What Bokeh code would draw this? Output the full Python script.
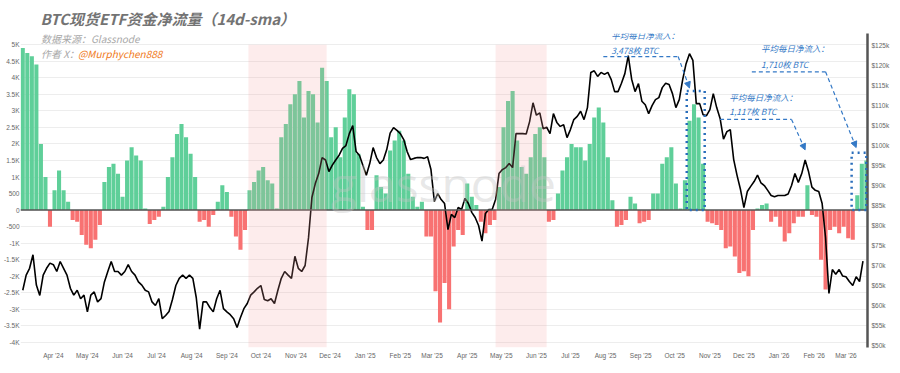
import pandas as pd
from bokeh.plotting import figure
from bokeh.models import (Range1d, LinearAxis, FixedTicker, DatetimeTickFormatter,
                          BoxAnnotation, Label, Arrow, NormalHead, Span, ColumnDataSource)
from bokeh.embed import file_html
from bokeh.resources import INLINE

# ---------------- data ----------------
flow_start = "2024-03-05"          # 14d-sma ETF net flow, one value every 4 days (BTC)
flow_step_days = 4
flow_btc = [
    4900, 4750, 4650, 4400, 2000, 1000, -500, 600, 1200, 600,
    250, -300, -350, -750, -1050, -1150, -900, -450, 850, 1300,
    1400, 1100, 400, 1500, 1900, 1650, 1500, 50, -420, -300,
    -200, 100, 1000, 1600, 2300, 2600, 2200, 1700, 1000, -350,
    -300, -500, -150, 250, 750, 550, -200, -800, -1200, -600,
    600, 850, 1200, 1300, 900, 800, 50, 2200, 2600, 3200,
    3500, 3900, 2800, 3600, 3500, 2650, 4300, 3900, 2200, 2500,
    1600, 2800, 3650, 3500, 1700, 100, -600, -600, 1050, 700,
    500, 1800, 2100, 2400, 2100, 1100, 400, 100, 250, -800,
    -800, -2450, -3400, -2200, -3000, -1100, -600, -750, 800, 400,
    150, -350, -700, -450, -300, 700, 2500, 3300, 3600, 2100,
    1300, 1100, 1600, 2300, 2500, 1600, -350, -300, 500, 1200,
    1600, 2000, 1900, 1900, 1500, 2000, 2800, 3100, 2650, 1600,
    300, -500, -450, -300, 400, 200, -400, -350, -300, 500,
    500, 1400, 1600, 1900, 800, 50, 900, 2700, 3200, 2800,
    1400, -350, -400, -450, -600, -1150, -1100, -1400, -1900, -1850,
    -2000, -600, 50, 150, 200, -350, -200, -500, -950, -700,
    -400, -200, -200, 750, -150, -200, -1500, -2400, -600, -500,
    -700, -500, -850, -900, 450, 1400, 1500,
]

price_start = "2024-03-05"         # BTC price (k USD), one value every 3 days
price_step_days = 3
btc_price_k = [
    63.8, 67.6, 69.3, 72.7, 65.1, 62.5, 67.6, 69.3, 70.6, 70.2,
    68.5, 71.0, 69.3, 67.6, 64.3, 62.6, 63.8, 61.7, 62.6, 58.4,
    62.6, 63.4, 60.9, 61.7, 65.9, 68.5, 71.0, 68.5, 68.5, 67.6,
    68.5, 70.2, 68.5, 67.6, 65.9, 65.1, 63.8, 63.4, 60.9, 60.0,
    61.7, 56.7, 57.5, 58.5, 61.5, 65.0, 66.8, 67.6, 66.8, 67.6,
    66.8, 62.0, 54.1, 60.9, 60.9, 59.5, 58.4, 61.7, 63.8, 59.2,
    58.4, 57.7, 56.7, 54.5, 57.0, 59.2, 60.5, 62.6, 63.4, 64.3,
    65.0, 61.5, 61.2, 61.7, 60.5, 63.8, 66.8, 68.5, 67.6, 66.8,
    72.3, 69.3, 68.5, 70.0, 76.9, 87.0, 90.5, 93.0, 97.0, 96.4,
    93.5, 95.1, 96.4, 97.6, 99.3, 100.0, 103.0, 105.0, 98.5, 97.5,
    95.0, 92.6, 95.5, 99.5, 97.0, 95.5, 96.4, 99.0, 103.1, 104.5,
    103.8, 103.0, 101.5, 98.5, 96.5, 96.8, 97.0, 97.0, 96.8, 97.2,
    94.0, 86.0, 88.0, 86.5, 85.5, 79.0, 82.8, 82.0, 84.5, 84.0,
    86.8, 85.5, 83.3, 82.0, 80.0, 76.1, 83.0, 84.0, 84.0, 86.5,
    93.0, 94.0, 94.5, 95.5, 94.5, 103.0, 103.0, 103.0, 102.9, 106.0,
    110.7, 107.6, 108.2, 104.2, 104.6, 103.0, 108.0, 105.8, 104.8, 105.2,
    102.0, 104.0, 106.5, 107.3, 108.6, 106.5, 109.5, 118.3, 118.7, 117.3,
    118.3, 117.8, 118.3, 116.5, 113.5, 113.5, 115.6, 118.0, 122.5, 116.6,
    113.5, 115.5, 111.1, 110.2, 108.0, 110.0, 111.5, 112.0, 114.5, 115.6,
    115.3, 113.0, 109.5, 111.5, 116.5, 120.5, 123.0, 121.3, 110.5, 110.5,
    107.7, 107.5, 109.0, 113.0, 109.5, 106.8, 101.6, 103.5, 104.0, 96.5,
    92.5, 89.0, 84.5, 88.5, 89.8, 91.0, 92.6, 90.7, 90.0, 88.8,
    87.5, 87.2, 87.5, 87.5, 87.5, 87.9, 90.0, 93.0, 90.8, 93.0,
    96.4, 93.5, 89.6, 88.8, 88.5, 85.5, 77.0, 63.0, 69.0, 67.8,
    69.0, 67.4, 67.2, 66.0, 65.0, 67.2, 66.0, 71.1,
]

shade_periods = [("2024-09-20", "2024-11-28"), ("2025-04-26", "2025-06-10")]

left_ticks = [-4000, -3500, -3000, -2500, -2000, -1500, -1000, -500, 0,
              500, 1000, 1500, 2000, 2500, 3000, 3500, 4000, 4500, 5000]
left_tick_labels = ["-4K", "-3.5K", "-3K", "-2.5K", "-2K", "-1.5K", "-1K", "-500", "0",
                    "500", "1K", "1.5K", "2K", "2.5K", "3K", "3.5K", "4K", "4.5K", "5K"]
right_ticks = [50, 55, 60, 65, 70, 75, 80, 85, 90, 95, 100, 105, 110, 115, 120, 125]
right_tick_labels = ["$50k", "$55k", "$60k", "$65k", "$70k", "$75k", "$80k", "$85k",
                     "$90k", "$95k", "$100k", "$105k", "$110k", "$115k", "$120k", "$125k"]
month_ticks = list(pd.date_range("2024-04-01", "2026-03-01", freq="MS"))

title_text = "BTC现货ETF资金净流量（14d-sma）"
source_text = "数据来源：Glassnode"
author_text = "作者 X："
author_handle = "@Murphychen888"

# callouts: label lines, dashed leader path, arrow tip, highlighted box
callouts = [
    dict(head="平均每日净流入：", value="3,478枚 BTC", text_x="2025-08-06", text_y=(5280, 4850),
         path=[("2025-07-30", 4640), ("2025-10-04", 4640)], tip=("2025-10-14", 3690)),
    dict(head="平均每日净流入：", value="1,710枚 BTC", text_x="2025-12-16", text_y=(4890, 4430),
         path=[("2025-12-08", 4180), ("2026-02-11", 4180)], tip=("2026-03-10", 1890)),
    dict(head="平均每日净流入：", value="1,117枚 BTC", text_x="2025-11-18", text_y=(3420, 2990),
         path=[("2025-11-10", 2740), ("2026-01-12", 2740)], tip=("2026-01-24", 1820)),
]
highlight_boxes = [("2025-10-11 14:00", "2025-10-27 10:00", 3600),
                   ("2026-03-06", "2026-03-19", 1730)]


def ms(d):
    return pd.Timestamp(d).value / 1e6


# ---------------- figure ----------------
flow_dates = pd.date_range(flow_start, periods=len(flow_btc), freq=f"{flow_step_days}D")
price_dates = pd.date_range(price_start, periods=len(btc_price_k), freq=f"{price_step_days}D")

GREEN = "#5fcf99"
RED = "#f87272"
BLUE = "#3479c6"

p = figure(width=892, height=364, x_axis_type="datetime",
           x_range=Range1d(ms("2024-03-03"), ms("2026-03-20")),
           y_range=Range1d(-4153, 5337),
           output_backend="svg", toolbar_location=None,
           min_border_left=14, min_border_right=10, min_border_top=29, min_border_bottom=17)
p.outline_line_color = None
p.background_fill_color = "white"
p.extra_y_ranges = {"price": Range1d(49.49, 128.04)}

# title
p.title.text = title_text
p.title.text_font = "Noto Sans CJK SC"
p.title.text_font_style = "bold italic"
p.title.text_font_size = "15px"
p.title.text_color = "#737373"
p.title.align = "left"
p.title.offset = 20

# grid / axes
p.xgrid.visible = False
p.ygrid.ticker = FixedTicker(ticks=left_ticks)
p.ygrid.grid_line_color = "#ededed"
p.ygrid.grid_line_width = 1

ya = p.yaxis[0]
ya.ticker = FixedTicker(ticks=left_ticks)
ya.major_label_overrides = {t: l for t, l in zip(left_ticks, left_tick_labels)}
ya.axis_line_color = None
ya.major_tick_line_color = None
ya.minor_tick_line_color = None
ya.major_tick_out = 0
ya.minor_tick_out = 0
ya.major_label_text_font_size = "6.5px"
ya.major_label_text_color = "#666666"
ya.major_label_standoff = 1

xa = p.xaxis[0]
xa.ticker = FixedTicker(ticks=[ms(t) for t in month_ticks])
fmt = "%b '%y"
xa.formatter = DatetimeTickFormatter(days=fmt, months=fmt, years=fmt, hours=fmt)
xa.axis_line_color = None
xa.major_tick_line_color = None
xa.minor_tick_line_color = None
xa.major_tick_out = 0
xa.minor_tick_out = 0
xa.major_label_text_font_size = "6.5px"
xa.major_label_text_color = "#666666"
xa.major_label_standoff = 4

ra = LinearAxis(y_range_name="price", ticker=FixedTicker(ticks=right_ticks))
ra.major_label_overrides = {t: l for t, l in zip(right_ticks, right_tick_labels)}
ra.axis_line_color = "#555555"
ra.axis_line_width = 2.5
ra.major_tick_line_color = None
ra.minor_tick_line_color = None
ra.major_tick_out = 0
ra.minor_tick_out = 0
ra.major_label_text_font_size = "6.5px"
ra.major_label_text_color = "#666666"
ra.major_label_standoff = 4
p.add_layout(ra, "right")

# bars
src = ColumnDataSource(dict(x=flow_dates, top=flow_btc,
                            color=[GREEN if v >= 0 else RED for v in flow_btc]))
bar_w = flow_step_days * 86400000 * 0.9
p.vbar(x="x", top="top", bottom=0, width=bar_w, source=src,
       fill_color="color", line_color=None)

p.add_layout(Span(location=0, dimension="width", line_color="#555555", line_width=1.5))

# price line
p.line(price_dates, btc_price_k, y_range_name="price", line_color="black", line_width=1.6)

# shaded periods
for a, b in shade_periods:
    p.add_layout(BoxAnnotation(left=ms(a), right=ms(b), top=5000,
                               fill_color="#f4a0a0", fill_alpha=0.2, line_alpha=0))

# watermark
p.add_layout(Label(x=ms("2025-03-11"), y=800, text="glassnode", text_font="Open Sans",
                   text_font_size="48px", text_color="#c4c4c4", text_alpha=0.4,
                   text_align="center", text_baseline="middle"))

# source / author
p.add_layout(Label(x=ms("2024-03-21"), y=5190, text=source_text, text_font="Noto Sans CJK SC",
                   text_font_size="10px", text_font_style="italic", text_color="#a8a8a8",
                   text_baseline="middle"))
p.add_layout(Label(x=ms("2024-03-21"), y=4730, text=author_text, text_font="Noto Sans CJK SC",
                   text_font_size="10px", text_font_style="italic", text_color="#a8a8a8",
                   text_baseline="middle"))
p.add_layout(Label(x=ms("2024-03-21"), y=4730, x_offset=37, text=author_handle,
                   text_font="Noto Sans CJK SC", text_font_size="10px", text_font_style="italic",
                   text_color="#f07a1a", text_baseline="middle"))

# callouts
for c in callouts:
    for txt, yy in zip((c["head"], c["value"]), c["text_y"]):
        p.add_layout(Label(x=ms(c["text_x"]), y=yy, text=txt, text_font="Noto Sans CJK SC",
                           text_font_size="8.5px", text_font_style="italic", text_color=BLUE,
                           text_baseline="middle"))
    xs = [ms(d) for d, _ in c["path"]]
    ys = [v for _, v in c["path"]]
    p.line(xs, ys, line_color=BLUE, line_width=1.2, line_dash="4 3")
    p.add_layout(Arrow(end=NormalHead(size=6, fill_color=BLUE, line_color=BLUE),
                       x_start=xs[-1], y_start=ys[-1], x_end=ms(c["tip"][0]), y_end=c["tip"][1],
                       line_color=BLUE, line_width=1.2, line_dash="4 3"))

for a, b, top in highlight_boxes:
    p.add_layout(BoxAnnotation(left=ms(a), right=ms(b), bottom=0, top=top,
                               fill_alpha=0, line_color="#2a6ebb", line_alpha=1.0,
                               line_width=2.5, line_dash="dotted"))

open("out.html", "w").write(file_html(p, INLINE))
